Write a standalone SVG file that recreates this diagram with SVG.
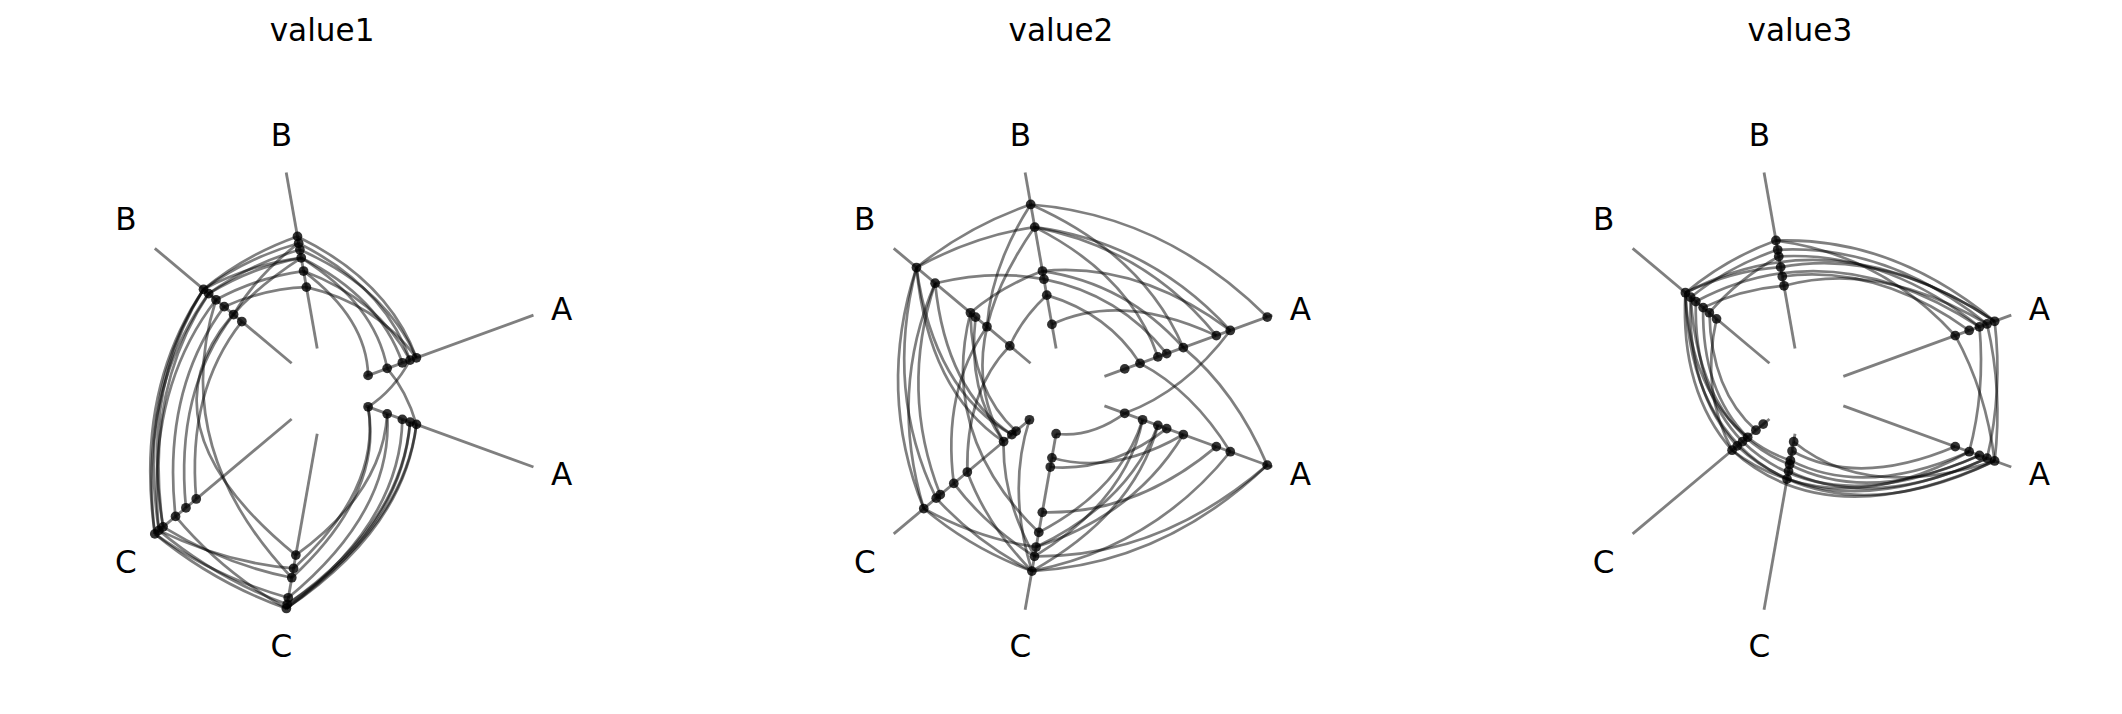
<svg xmlns="http://www.w3.org/2000/svg" width="2122" height="714" viewBox="0 0 2122 714">
<style>
.ax{stroke:#000;stroke-opacity:0.5;stroke-width:2.1;fill:none}
.e{stroke:#000;stroke-opacity:0.5;stroke-width:2;fill:none}
.n{fill:#000;fill-opacity:0.8}
.t{font-family:"DejaVu Sans",sans-serif;font-size:23px;text-anchor:middle;dominant-baseline:central;fill:#000}
</style>
<defs>
<g id="axes">
<line class="ax" x1="30.1" y1="-10.9" x2="154.2" y2="-56.1"/>
<line class="ax" x1="30.1" y1="10.9" x2="154.2" y2="56.1"/>
<line class="ax" x1="-5.6" y1="-31.5" x2="-28.5" y2="-161.5"/>
<line class="ax" x1="-24.5" y1="-20.6" x2="-125.6" y2="-105.5"/>
<line class="ax" x1="-24.5" y1="20.6" x2="-125.6" y2="105.5"/>
<line class="ax" x1="-5.6" y1="31.5" x2="-28.5" y2="161.5"/>
</g>
<g id="labels">
<text class="t" x="175" y="-61">A</text>
<text class="t" x="175" y="61">A</text>
<text class="t" x="-32" y="-189">B</text>
<text class="t" x="-147" y="-127">B</text>
<text class="t" x="-147" y="126">C</text>
<text class="t" x="-32" y="188">C</text>
</g>
</defs>
<rect width="2122" height="714" fill="#fff"/>
<g transform="scale(1.3533)">
<!-- Panel 1 -->
<g id="panel1" transform="translate(240,289)">
<text class="t" x="-2" y="-267">value1</text>
<use href="#axes"/><use href="#labels"/>
<g id="p1-connectors">
<path class="e" d="M67.7,-24.6 Q37.5,-65 -13.6,-76.8"/>
<path class="e" d="M63.0,-22.9 Q39.3,-68 -15.7,-88.7"/>
<path class="e" d="M57.3,-20.9 Q40.3,-69.7 -17.4,-98.5"/>
<path class="e" d="M67.7,-24.6 Q44.5,-77.1 -18.4,-104.4"/>
<path class="e" d="M63.0,-22.9 Q44.5,-77.1 -19.3,-109.3"/>
<path class="e" d="M46.1,-16.8 Q37.3,-64.5 -17.4,-98.5"/>
<path class="e" d="M32.0,-11.6 Q31,-53.7 -15.7,-88.7"/>
<path class="e" d="M67.7,-24.6 Q47,-81.4 -20.2,-114.3"/>
<path class="e" d="M-20.2,-114.3 Q-58.3,-100.9 -89.6,-75.2"/>
<path class="e" d="M-19.3,-109.3 Q-57,-98.7 -89.6,-75.2"/>
<path class="e" d="M-18.4,-104.4 Q-54.5,-94.4 -85.8,-72.0"/>
<path class="e" d="M-17.4,-98.5 Q-53,-91.8 -85.8,-72.0"/>
<path class="e" d="M-15.7,-88.7 Q-48.8,-84.4 -80.4,-67.5"/>
<path class="e" d="M-13.6,-76.8 Q-43.8,-75.8 -74.3,-62.4"/>
<path class="e" d="M-19.3,-109.3 Q-49.8,-86.2 -67.4,-56.6"/>
<path class="e" d="M-17.4,-98.5 Q-54.3,-94 -89.6,-75.2"/>
<path class="e" d="M-89.6,-75.2 Q-140.5,0 -125.6,105.5"/>
<path class="e" d="M-89.6,-75.2 Q-138.5,0 -122.6,102.9"/>
<path class="e" d="M-85.8,-72.0 Q-138,0 -125.6,105.5"/>
<path class="e" d="M-85.8,-72.0 Q-134,0 -119.5,100.3"/>
<path class="e" d="M-80.4,-67.5 Q-132.5,0 -122.6,102.9"/>
<path class="e" d="M-74.3,-62.4 Q-120.5,0 -110.3,92.6"/>
<path class="e" d="M-67.4,-56.6 Q-111,0 -102.6,86.2"/>
<path class="e" d="M-61.3,-51.4 Q-102,0 -95.0,79.7"/>
<path class="e" d="M-89.6,-75.2 Q-136.5,0 -119.5,100.3"/>
<path class="e" d="M-80.4,-67.5 Q-115.2,41.9 -24.4,137.9"/>
<path class="e" d="M-17.4,-98.5 Q-170,0 -21.4,121.2"/>
<path class="e" d="M-125.6,105.5 Q-81.8,141.6 -28.4,160.6"/>
<path class="e" d="M-122.6,102.9 Q-80,138.6 -27.8,157.6"/>
<path class="e" d="M-125.6,105.5 Q-79.8,138.1 -27.0,152.7"/>
<path class="e" d="M-119.5,100.3 Q-74,128.2 -24.4,137.9"/>
<path class="e" d="M-122.6,102.9 Q-73.3,126.9 -23.1,131.0"/>
<path class="e" d="M-110.3,92.6 Q-76.8,132.9 -28.4,160.6"/>
<path class="e" d="M-28.4,160.6 Q58.8,101.8 67.7,24.6"/>
<path class="e" d="M-27.8,157.6 Q56.8,98.3 63.0,22.9"/>
<path class="e" d="M-28.4,160.6 Q56,97 57.3,20.9"/>
<path class="e" d="M-27.0,152.7 Q51,88.3 46.1,16.8"/>
<path class="e" d="M-27.8,157.6 Q58,100.5 67.7,24.6"/>
<path class="e" d="M-24.4,137.9 Q43.5,75.3 32.0,11.6"/>
<path class="e" d="M-23.1,131.0 Q41.8,72.3 32.0,11.6"/>
<path class="e" d="M-21.4,121.2 Q43,74.5 46.1,16.8"/>
<path class="e" d="M-28.4,160.6 Q57.5,99.6 63.0,22.9"/>
<path class="e" d="M46.1,-16.8 Q60.5,0 67.7,24.6"/>
<path class="e" d="M63.0,-22.9 Q50.5,0 32.0,11.6"/>
</g>
<g id="p1-nodes">
<circle id="p1a1" class="n" r="3.6" cx="32.0" cy="-11.6"/><circle id="p1a2" class="n" r="3.6" cx="46.1" cy="-16.8"/><circle id="p1a3" class="n" r="3.6" cx="57.3" cy="-20.9"/><circle id="p1a4" class="n" r="3.6" cx="63.0" cy="-22.9"/><circle id="p1a5" class="n" r="3.6" cx="67.7" cy="-24.6"/>
<circle id="p1a6" class="n" r="3.6" cx="32.0" cy="11.6"/><circle id="p1a7" class="n" r="3.6" cx="46.1" cy="16.8"/><circle id="p1a8" class="n" r="3.6" cx="57.3" cy="20.9"/><circle id="p1a9" class="n" r="3.6" cx="63.0" cy="22.9"/><circle id="p1a10" class="n" r="3.6" cx="67.7" cy="24.6"/>
<circle id="p1b1" class="n" r="3.6" cx="-13.6" cy="-76.8"/><circle id="p1b2" class="n" r="3.6" cx="-15.7" cy="-88.7"/><circle id="p1b3" class="n" r="3.6" cx="-17.4" cy="-98.5"/><circle id="p1b4" class="n" r="3.6" cx="-18.4" cy="-104.4"/><circle id="p1b5" class="n" r="3.6" cx="-19.3" cy="-109.3"/><circle id="p1b6" class="n" r="3.6" cx="-20.2" cy="-114.3"/>
<circle id="p1b7" class="n" r="3.6" cx="-61.3" cy="-51.4"/><circle id="p1b8" class="n" r="3.6" cx="-67.4" cy="-56.6"/><circle id="p1b9" class="n" r="3.6" cx="-74.3" cy="-62.4"/><circle id="p1b10" class="n" r="3.6" cx="-80.4" cy="-67.5"/><circle id="p1b11" class="n" r="3.6" cx="-85.8" cy="-72.0"/><circle id="p1b12" class="n" r="3.6" cx="-89.6" cy="-75.2"/>
<circle id="p1c1" class="n" r="3.6" cx="-95.0" cy="79.7"/><circle id="p1c2" class="n" r="3.6" cx="-102.6" cy="86.2"/><circle id="p1c3" class="n" r="3.6" cx="-110.3" cy="92.6"/><circle id="p1c4" class="n" r="3.6" cx="-119.5" cy="100.3"/><circle id="p1c5" class="n" r="3.6" cx="-122.6" cy="102.9"/><circle id="p1c6" class="n" r="3.6" cx="-125.6" cy="105.5"/>
<circle id="p1c7" class="n" r="3.6" cx="-21.4" cy="121.2"/><circle id="p1c8" class="n" r="3.6" cx="-23.1" cy="131.0"/><circle id="p1c9" class="n" r="3.6" cx="-24.4" cy="137.9"/><circle id="p1c10" class="n" r="3.6" cx="-27.0" cy="152.7"/><circle id="p1c11" class="n" r="3.6" cx="-27.8" cy="157.6"/><circle id="p1c12" class="n" r="3.6" cx="-28.4" cy="160.6"/>
</g>
</g>
<!-- Panel 2 -->
<g id="panel2" transform="translate(786,289)">
<text class="t" x="-2" y="-267">value2</text>
<use href="#axes"/><use href="#labels"/>
<g id="p2-connectors">
<path class="e" d="M-24.4,-137.9 Q75,-129.9 150.4,-54.7"/>
<path class="e" d="M-24.4,-137.9 Q58.5,-101.3 88.4,-32.1"/>
<path class="e" d="M-21.4,-121.2 Q63.5,-110 123.1,-44.8"/>
<path class="e" d="M-21.4,-121.2 Q60.8,-105.2 112.8,-41.0"/>
<path class="e" d="M-21.4,-121.2 Q49.3,-85.3 69.6,-25.3"/>
<path class="e" d="M-15.7,-88.7 Q55.3,-95.7 123.1,-44.8"/>
<path class="e" d="M-14.6,-82.7 Q41.3,-71.4 76.1,-27.7"/>
<path class="e" d="M-12.5,-70.9 Q33,-57.2 56.4,-20.5"/>
<path class="e" d="M-15.7,-88.7 Q46,-79.7 88.4,-32.1"/>
<path class="e" d="M-8.7,-49.3 Q42.5,-73.6 112.8,-41.0"/>
<path class="e" d="M-24.4,-137.9 Q-70.5,-122.1 -108.8,-91.3"/>
<path class="e" d="M-21.4,-121.2 Q-66.3,-114.7 -108.8,-91.3"/>
<path class="e" d="M-24.4,-137.9 Q-53.5,-92.7 -56.7,-47.6"/>
<path class="e" d="M-15.7,-88.7 Q-45,-77.9 -68.9,-57.9"/>
<path class="e" d="M-14.6,-82.7 Q-52,-90.1 -95.0,-79.7"/>
<path class="e" d="M-12.5,-70.9 Q-31,-53.7 -39.8,-33.4"/>
<path class="e" d="M-108.8,-91.3 Q-138.5,0 -103.4,86.8"/>
<path class="e" d="M-108.8,-91.3 Q-132.5,0 -94.2,79.1"/>
<path class="e" d="M-95.0,-79.7 Q-121.5,0 -91.2,76.5"/>
<path class="e" d="M-95.0,-79.7 Q-129.5,0 -103.4,86.8"/>
<path class="e" d="M-108.8,-91.3 Q-100,0 -44.4,37.3"/>
<path class="e" d="M-95.0,-79.7 Q-87,0 -38.3,32.2"/>
<path class="e" d="M-68.9,-57.9 Q-68,0 -35.2,29.6"/>
<path class="e" d="M-65.1,-54.7 Q-71.5,0 -44.4,37.3"/>
<path class="e" d="M-56.7,-47.6 Q-90,0 -81.2,68.2"/>
<path class="e" d="M-39.8,-33.4 Q-72.5,0 -71.2,59.8"/>
<path class="e" d="M-108.8,-91.3 Q-96,0 -38.3,32.2"/>
<path class="e" d="M-103.4,86.8 Q-67.5,116.9 -23.5,133.0"/>
<path class="e" d="M-103.4,86.8 Q-63,109.1 -20.4,115.2"/>
<path class="e" d="M-94.2,79.1 Q-64.5,111.7 -23.5,133.0"/>
<path class="e" d="M-81.2,68.2 Q-57.5,99.6 -21.6,122.1"/>
<path class="e" d="M-71.2,59.8 Q-57,98.7 -23.5,133.0"/>
<path class="e" d="M-25.3,21.2 Q-42,72.7 -23.5,133.0"/>
<path class="e" d="M-44.4,37.3 Q-45.5,78.8 -21.6,122.1"/>
<path class="e" d="M-23.5,133.0 Q73.8,127.7 150.4,54.7"/>
<path class="e" d="M-23.5,133.0 Q66.5,115.2 123.1,44.8"/>
<path class="e" d="M-21.6,122.1 Q71,123 150.4,54.7"/>
<path class="e" d="M-20.4,115.2 Q52.8,91.4 88.4,32.1"/>
<path class="e" d="M-21.6,122.1 Q46.5,80.5 58.3,21.2"/>
<path class="e" d="M-20.4,115.2 Q47.8,82.7 69.6,25.3"/>
<path class="e" d="M-18.4,104.4 Q42,72.7 58.3,21.2"/>
<path class="e" d="M-15.8,89.6 Q52.8,91.4 112.8,41.0"/>
<path class="e" d="M-9.9,56.1 Q34.5,59.8 76.1,27.7"/>
<path class="e" d="M-8.7,49.3 Q36,62.4 88.4,32.1"/>
<path class="e" d="M-5.6,31.5 Q20,34.6 45.1,16.4"/>
<path class="e" d="M-23.5,133.0 Q52.3,90.5 69.6,25.3"/>
<path class="e" d="M88.4,-32.1 Q127,0 150.4,54.7"/>
<path class="e" d="M56.4,-20.5 Q95.5,0 123.1,44.8"/>
<path class="e" d="M123.1,-44.8 Q89.5,0 45.1,16.4"/>
<path class="e" d="M-21.4,-121.2 Q-84.6,-30.8 -44.4,37.3"/>
<path class="e" d="M-68.9,-57.9 Q-92.1,33.5 -18.4,104.4"/>
</g>
<g id="p2-nodes">
<circle id="p2a1" class="n" r="3.6" cx="150.4" cy="-54.7"/><circle id="p2a2" class="n" r="3.6" cx="123.1" cy="-44.8"/><circle id="p2a3" class="n" r="3.6" cx="112.8" cy="-41.0"/><circle id="p2a4" class="n" r="3.6" cx="88.4" cy="-32.1"/><circle id="p2a5" class="n" r="3.6" cx="76.1" cy="-27.7"/><circle id="p2a6" class="n" r="3.6" cx="69.6" cy="-25.3"/><circle id="p2a7" class="n" r="3.6" cx="56.4" cy="-20.5"/><circle id="p2a8" class="n" r="3.6" cx="45.1" cy="-16.4"/>
<circle id="p2a9" class="n" r="3.6" cx="150.4" cy="54.7"/><circle id="p2a10" class="n" r="3.6" cx="123.1" cy="44.8"/><circle id="p2a11" class="n" r="3.6" cx="112.8" cy="41.0"/><circle id="p2a12" class="n" r="3.6" cx="88.4" cy="32.1"/><circle id="p2a13" class="n" r="3.6" cx="76.1" cy="27.7"/><circle id="p2a14" class="n" r="3.6" cx="69.6" cy="25.3"/><circle id="p2a15" class="n" r="3.6" cx="58.3" cy="21.2"/><circle id="p2a16" class="n" r="3.6" cx="45.1" cy="16.4"/>
<circle id="p2b1" class="n" r="3.6" cx="-24.4" cy="-137.9"/><circle id="p2b2" class="n" r="3.6" cx="-21.4" cy="-121.2"/><circle id="p2b3" class="n" r="3.6" cx="-15.7" cy="-88.7"/><circle id="p2b4" class="n" r="3.6" cx="-14.6" cy="-82.7"/><circle id="p2b5" class="n" r="3.6" cx="-12.5" cy="-70.9"/><circle id="p2b6" class="n" r="3.6" cx="-8.7" cy="-49.3"/>
<circle id="p2b7" class="n" r="3.6" cx="-108.8" cy="-91.3"/><circle id="p2b8" class="n" r="3.6" cx="-95.0" cy="-79.7"/><circle id="p2b9" class="n" r="3.6" cx="-68.9" cy="-57.9"/><circle id="p2b10" class="n" r="3.6" cx="-65.1" cy="-54.7"/><circle id="p2b11" class="n" r="3.6" cx="-56.7" cy="-47.6"/><circle id="p2b12" class="n" r="3.6" cx="-39.8" cy="-33.4"/>
<circle id="p2c1" class="n" r="3.6" cx="-103.4" cy="86.8"/><circle id="p2c2" class="n" r="3.6" cx="-94.2" cy="79.1"/><circle id="p2c3" class="n" r="3.6" cx="-91.2" cy="76.5"/><circle id="p2c4" class="n" r="3.6" cx="-81.2" cy="68.2"/><circle id="p2c5" class="n" r="3.6" cx="-71.2" cy="59.8"/><circle id="p2c6" class="n" r="3.6" cx="-44.4" cy="37.3"/><circle id="p2c7" class="n" r="3.6" cx="-38.3" cy="32.2"/><circle id="p2c8" class="n" r="3.6" cx="-35.2" cy="29.6"/><circle id="p2c9" class="n" r="3.6" cx="-25.3" cy="21.2"/>
<circle id="p2c10" class="n" r="3.6" cx="-23.5" cy="133.0"/><circle id="p2c11" class="n" r="3.6" cx="-21.6" cy="122.1"/><circle id="p2c12" class="n" r="3.6" cx="-20.4" cy="115.2"/><circle id="p2c13" class="n" r="3.6" cx="-18.4" cy="104.4"/><circle id="p2c14" class="n" r="3.6" cx="-15.8" cy="89.6"/><circle id="p2c15" class="n" r="3.6" cx="-9.9" cy="56.1"/><circle id="p2c16" class="n" r="3.6" cx="-8.7" cy="49.3"/><circle id="p2c17" class="n" r="3.6" cx="-5.6" cy="31.5"/>
</g>
</g>
<!-- Panel 3 -->
<g id="panel3" transform="translate(1332,289)">
<text class="t" x="-2" y="-267">value3</text>
<use href="#axes"/><use href="#labels"/>
<g id="p3-connectors">
<path class="e" d="M-19.7,-111.3 Q66,-114.3 141.9,-51.6"/>
<path class="e" d="M-18.4,-104.4 Q62.8,-108.7 136.3,-49.6"/>
<path class="e" d="M-17.6,-99.5 Q60,-103.9 130.7,-47.5"/>
<path class="e" d="M-16.2,-91.6 Q61,-105.7 141.9,-51.6"/>
<path class="e" d="M-15.0,-84.7 Q54.3,-94 123.1,-44.8"/>
<path class="e" d="M-13.7,-77.8 Q56,-97 136.3,-49.6"/>
<path class="e" d="M-19.7,-111.3 Q58.3,-100.9 112.8,-41.0"/>
<path class="e" d="M-19.7,-111.3 Q-56.5,-97.9 -86.6,-72.7"/>
<path class="e" d="M-18.4,-104.4 Q-53.5,-92.7 -82.7,-69.4"/>
<path class="e" d="M-16.2,-91.6 Q-51.5,-89.2 -86.6,-72.7"/>
<path class="e" d="M-13.7,-77.8 Q-43.8,-75.8 -73.5,-61.7"/>
<path class="e" d="M-17.6,-99.5 Q-47.8,-82.7 -68.9,-57.9"/>
<path class="e" d="M-86.6,-72.7 Q23,-130 141.9,-51.6"/>
<path class="e" d="M-78.9,-66.2 Q21.1,-119.2 130.7,-47.5"/>
<path class="e" d="M-86.6,-72.7 Q-90.5,0 -52.1,43.7"/>
<path class="e" d="M-82.7,-69.4 Q-85.5,0 -48.3,40.5"/>
<path class="e" d="M-78.9,-66.2 Q-80.5,0 -44.4,37.3"/>
<path class="e" d="M-73.5,-61.7 Q-74.5,0 -40.6,34.1"/>
<path class="e" d="M-68.9,-57.9 Q-67.5,0 -34.5,28.9"/>
<path class="e" d="M-86.6,-72.7 Q-83,0 -40.6,34.1"/>
<path class="e" d="M-63.6,-53.4 Q-75.5,0 -52.1,43.7"/>
<path class="e" d="M-52.1,43.7 Q19.1,107.9 141.9,51.6"/>
<path class="e" d="M-48.3,40.5 Q18.1,102.4 136.3,49.6"/>
<path class="e" d="M-44.4,37.3 Q17.1,97 130.7,47.5"/>
<path class="e" d="M-11.5,65.0 Q54.3,94 141.9,51.6"/>
<path class="e" d="M-10.4,59.1 Q51.3,88.8 136.3,49.6"/>
<path class="e" d="M-9.6,54.2 Q48.5,84 130.7,47.5"/>
<path class="e" d="M-9.0,51.2 Q45.8,79.2 123.1,44.8"/>
<path class="e" d="M-7.8,44.3 Q41.3,71.4 112.8,41.0"/>
<path class="e" d="M-6.6,37.4 Q47.3,81.8 141.9,51.6"/>
<path class="e" d="M-11.5,65.0 Q49.3,85.3 123.1,44.8"/>
<path class="e" d="M-52.1,43.7 Q-33.5,58 -11.5,65.0"/>
<path class="e" d="M-40.6,34.1 Q-26.3,45.5 -9.0,51.2"/>
<path class="e" d="M141.9,-51.6 Q148,0 136.3,49.6"/>
<path class="e" d="M136.3,-49.6 Q148,0 141.9,51.6"/>
<path class="e" d="M130.7,-47.5 Q135,0 123.1,44.8"/>
<path class="e" d="M112.8,-41.0 Q135.5,0 141.9,51.6"/>
<path class="e" d="M-86.6,-72.7 Q-84.1,30.6 -11.5,65.0"/>
<path class="e" d="M-82.7,-69.4 Q-76.6,27.9 -9.6,54.2"/>
</g>
<g id="p3-nodes">
<circle id="p3a1" class="n" r="3.6" cx="112.8" cy="-41.0"/><circle id="p3a2" class="n" r="3.6" cx="123.1" cy="-44.8"/><circle id="p3a3" class="n" r="3.6" cx="130.7" cy="-47.5"/><circle id="p3a4" class="n" r="3.6" cx="136.3" cy="-49.6"/><circle id="p3a5" class="n" r="3.6" cx="141.9" cy="-51.6"/>
<circle id="p3a6" class="n" r="3.6" cx="112.8" cy="41.0"/><circle id="p3a7" class="n" r="3.6" cx="123.1" cy="44.8"/><circle id="p3a8" class="n" r="3.6" cx="130.7" cy="47.5"/><circle id="p3a9" class="n" r="3.6" cx="136.3" cy="49.6"/><circle id="p3a10" class="n" r="3.6" cx="141.9" cy="51.6"/>
<circle id="p3b1" class="n" r="3.6" cx="-19.7" cy="-111.3"/><circle id="p3b2" class="n" r="3.6" cx="-18.4" cy="-104.4"/><circle id="p3b3" class="n" r="3.6" cx="-17.6" cy="-99.5"/><circle id="p3b4" class="n" r="3.6" cx="-16.2" cy="-91.6"/><circle id="p3b5" class="n" r="3.6" cx="-15.0" cy="-84.7"/><circle id="p3b6" class="n" r="3.6" cx="-13.7" cy="-77.8"/>
<circle id="p3b7" class="n" r="3.6" cx="-86.6" cy="-72.7"/><circle id="p3b8" class="n" r="3.6" cx="-82.7" cy="-69.4"/><circle id="p3b9" class="n" r="3.6" cx="-78.9" cy="-66.2"/><circle id="p3b10" class="n" r="3.6" cx="-73.5" cy="-61.7"/><circle id="p3b11" class="n" r="3.6" cx="-68.9" cy="-57.9"/><circle id="p3b12" class="n" r="3.6" cx="-63.6" cy="-53.4"/>
<circle id="p3c1" class="n" r="3.6" cx="-52.1" cy="43.7"/><circle id="p3c2" class="n" r="3.6" cx="-48.3" cy="40.5"/><circle id="p3c3" class="n" r="3.6" cx="-44.4" cy="37.3"/><circle id="p3c4" class="n" r="3.6" cx="-40.6" cy="34.1"/><circle id="p3c5" class="n" r="3.6" cx="-34.5" cy="28.9"/><circle id="p3c6" class="n" r="3.6" cx="-29.1" cy="24.4"/>
<circle id="p3c7" class="n" r="3.6" cx="-11.5" cy="65.0"/><circle id="p3c8" class="n" r="3.6" cx="-10.4" cy="59.1"/><circle id="p3c9" class="n" r="3.6" cx="-9.6" cy="54.2"/><circle id="p3c10" class="n" r="3.6" cx="-9.0" cy="51.2"/><circle id="p3c11" class="n" r="3.6" cx="-7.8" cy="44.3"/><circle id="p3c12" class="n" r="3.6" cx="-6.6" cy="37.4"/>
</g>
</g>
</g>
</svg>
